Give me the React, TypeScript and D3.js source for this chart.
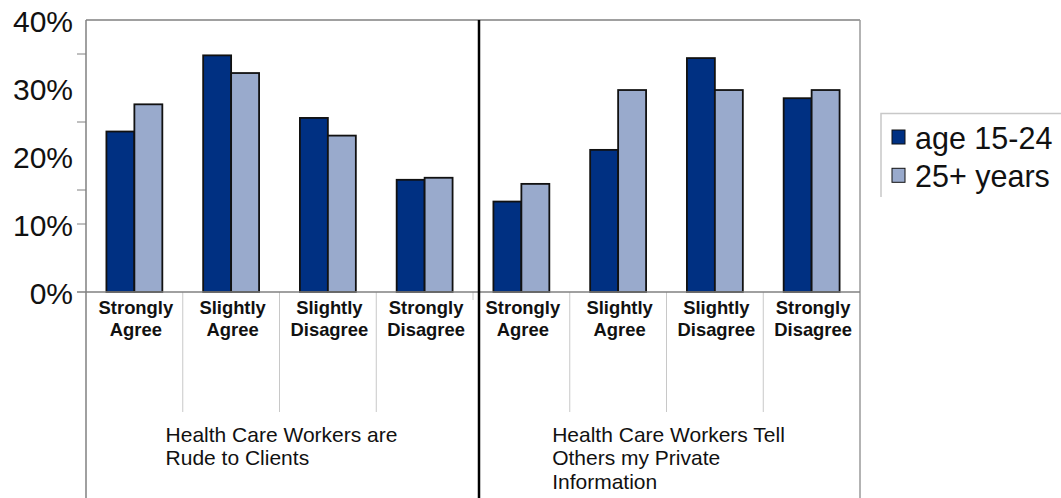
import React, { useEffect, useRef } from "react";
import * as d3 from "d3";

const groups = ["Health Care Workers are Rude to Clients", "Health Care Workers Tell Others my Private Information"];
const groupLines = [
  ["Health Care Workers are", "Rude to Clients"],
  ["Health Care Workers Tell", "Others my Private", "Information"],
];
const responses = [
  ["Strongly", "Agree"],
  ["Slightly", "Agree"],
  ["Slightly", "Disagree"],
  ["Strongly", "Disagree"],
];
const seriesNames = ["age 15-24", "25+ years"];
const age1524 = [23.6, 34.8, 25.6, 16.5, 13.3, 20.9, 34.4, 28.5];
const age25plus = [27.6, 32.2, 23.0, 16.8, 15.9, 29.7, 29.7, 29.7];
const yTickLabels = [0, 10, 20, 30, 40];
const yMinorTicks = [35, 25, 15, 10];

const colors = ["#003082", "#99AACC"];

export default function App() {
  const ref = useRef<SVGSVGElement>(null);
  useEffect(() => {
    const svg = d3.select(ref.current);
    svg.selectAll("*").remove();
    const left = 86, right = 860, top = 20, bottom = 292;
    const cats = d3.range(groups.length * responses.length).map(String);
    const x = d3.scaleBand().domain(cats).range([left, right]).paddingInner(0).paddingOuter(0);
    const xs = d3.scaleBand().domain(seriesNames).range([0, x.bandwidth()]).paddingInner(0).paddingOuter(0.73);
    const y = d3.scaleLinear().domain([0, 40]).range([bottom, top]);
    const font = "'Liberation Sans', Arial, sans-serif";

    // plot border
    svg.append("line").attr("x1", left).attr("x2", right).attr("y1", top).attr("y2", top).attr("stroke", "#808080").attr("stroke-width", 1.5);
    svg.append("line").attr("x1", right).attr("x2", right).attr("y1", top).attr("y2", 498).attr("stroke", "#9a9a9a").attr("stroke-width", 1.5);
    svg.append("line").attr("x1", left).attr("x2", left).attr("y1", top).attr("y2", 498).attr("stroke", "#808080").attr("stroke-width", 1.5);

    // y minor ticks
    svg.selectAll(".ytick").data(yMinorTicks).enter().append("line")
      .attr("x1", 77).attr("x2", left).attr("y1", d => y(d)).attr("y2", d => y(d))
      .attr("stroke", "#808080").attr("stroke-width", 1);

    // y labels
    svg.selectAll(".ylab").data(yTickLabels).enter().append("text")
      .attr("x", 73).attr("y", d => y(d) + 12).attr("text-anchor", "end")
      .attr("font-family", font).attr("font-size", 30).attr("fill", "#111")
      .text(d => d + "%");

    // category separators below axis
    cats.forEach((c, i) => {
      if (i === 0) return;
      const xx = x(c)!;
      const isGroup = i % responses.length === 0;
      svg.append("line").attr("x1", xx).attr("x2", xx).attr("y1", bottom)
        .attr("y2", isGroup ? bottom + 8 : 412)
        .attr("stroke", "#c8c8c8").attr("stroke-width", 1);
    });

    // bars
    const data = cats.map((c, i) => [age1524[i], age25plus[i]]);
    cats.forEach((c, i) => {
      seriesNames.forEach((s, j) => {
        svg.append("rect")
          .attr("x", x(c)! + xs(s)!)
          .attr("y", y(data[i][j]))
          .attr("width", xs.bandwidth())
          .attr("height", bottom - y(data[i][j]))
          .attr("fill", colors[j])
          .attr("stroke", "#111").attr("stroke-width", 1.8);
      });
    });

    // baseline
    svg.append("line").attr("x1", 77).attr("x2", right).attr("y1", bottom).attr("y2", bottom).attr("stroke", "#808080").attr("stroke-width", 1.5);

    // category labels
    cats.forEach((c, i) => {
      const lines = responses[i % responses.length];
      const cx = x(c)! + x.bandwidth() / 2 + 1.5;
      lines.forEach((ln, k) => {
        svg.append("text").attr("x", cx).attr("y", 314 + k * 21.5)
          .attr("text-anchor", "middle").attr("font-family", font)
          .attr("font-weight", "bold").attr("font-size", 18.4).attr("fill", "#111")
          .text(ln);
      });
    });

    // group labels (left-aligned block centered in the group)
    groups.forEach((g, gi) => {
      const g0 = x(String(gi * responses.length))!;
      const g1 = gi === groups.length - 1 ? right : x(String((gi + 1) * responses.length))!;
      const gc = (g0 + g1) / 2;
      const texts = groupLines[gi].map((ln, k) =>
        svg.append("text").attr("y", 441.7 + k * 23.7)
          .attr("font-family", font).attr("font-size", 21).attr("fill", "#111")
          .text(ln)
      );
      const w = d3.max(texts, t => (t.node() as SVGTextElement).getComputedTextLength()) || 0;
      texts.forEach(t => t.attr("x", gc - w / 2 + 2));
    });

    // thick divider
    svg.append("line").attr("x1", 479).attr("x2", 479).attr("y1", top).attr("y2", 498).attr("stroke", "#000").attr("stroke-width", 2.5);

    // legend
    svg.append("path").attr("d", "M881,197V113.5H1061").attr("fill", "none").attr("stroke", "#c8c8c8").attr("stroke-width", 1.5);
    seriesNames.forEach((s, j) => {
      const ly = 130 + j * 38.3;
      svg.append("rect").attr("x", 892).attr("y", ly).attr("width", 13).attr("height", 14)
        .attr("fill", colors[j]).attr("stroke", "#111").attr("stroke-width", 1);
      svg.append("text").attr("x", 915).attr("y", ly + 18.5)
        .attr("font-family", font).attr("font-size", 30.5).attr("fill", "#111").text(s);
    });
  }, []);
  return (
    <svg ref={ref} width={1061} height={498} style={{ position: "absolute", left: 0, top: 0, background: "#fff" }} />
  );
}
